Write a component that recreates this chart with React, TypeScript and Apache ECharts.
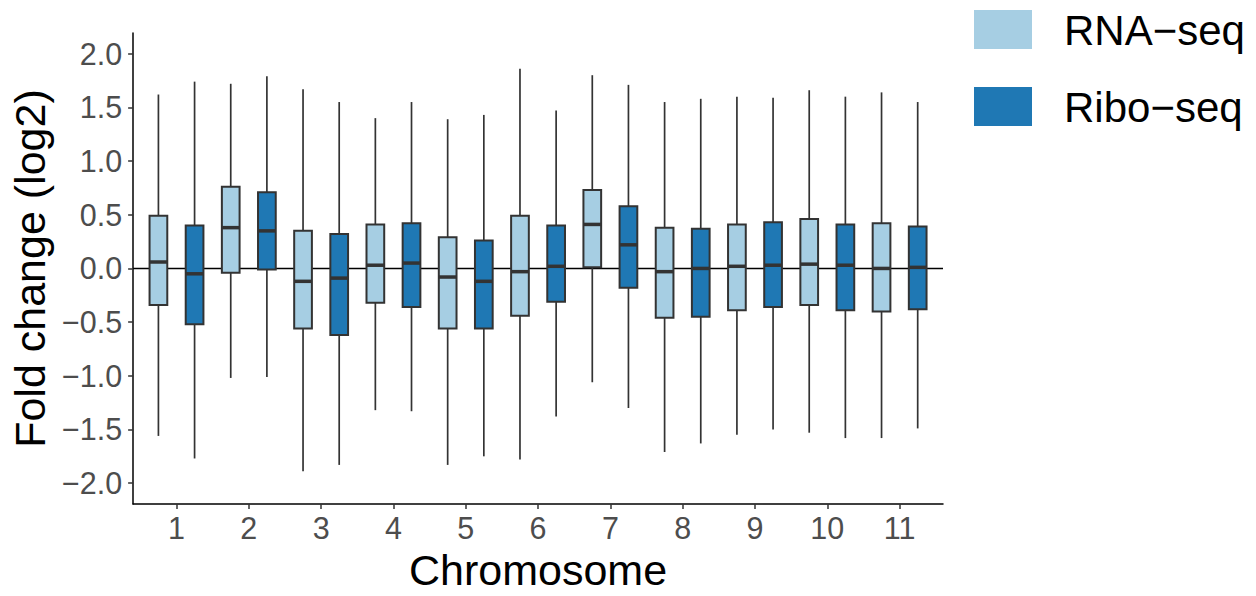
import React, { useEffect, useRef } from "react";
import * as echarts from "echarts";

const chromosomes = [1, 2, 3, 4, 5, 6, 7, 8, 9, 10, 11];
const seriesNames = ["RNA\u2212seq", "Ribo\u2212seq"];

const rnaLower = [-1.56, -1.02, -1.89, -1.32, -1.83, -1.78, -1.06, -1.71, -1.55, -1.53, -1.58];
const rnaQ1 = [-0.34, -0.04, -0.56, -0.32, -0.56, -0.44, 0.01, -0.46, -0.39, -0.34, -0.4];
const rnaMedian = [0.06, 0.38, -0.12, 0.03, -0.08, -0.03, 0.41, -0.03, 0.02, 0.04, 0.0];
const rnaQ3 = [0.49, 0.76, 0.35, 0.41, 0.29, 0.49, 0.73, 0.38, 0.41, 0.46, 0.42];
const rnaUpper = [1.62, 1.72, 1.67, 1.4, 1.39, 1.86, 1.8, 1.55, 1.6, 1.66, 1.64];

const riboLower = [-1.77, -1.01, -1.83, -1.33, -1.75, -1.38, -1.3, -1.63, -1.5, -1.58, -1.49];
const riboQ1 = [-0.52, -0.01, -0.62, -0.36, -0.56, -0.31, -0.18, -0.45, -0.36, -0.39, -0.38];
const riboMedian = [-0.05, 0.35, -0.09, 0.05, -0.12, 0.02, 0.22, 0.0, 0.03, 0.03, 0.01];
const riboQ3 = [0.4, 0.71, 0.32, 0.42, 0.26, 0.4, 0.58, 0.37, 0.43, 0.41, 0.39];
const riboUpper = [1.74, 1.79, 1.55, 1.55, 1.43, 1.47, 1.71, 1.58, 1.59, 1.6, 1.55];

const yTicks = [-2, -1.5, -1, -0.5, 0, 0.5, 1, 1.5, 2];
const zeroLineValue = 0;

const LIGHT = "#A6CEE3";
const DARK = "#1F78B4";
const STROKE = "#333333";
const FONT = "'Liberation Sans', Arial, Helvetica, sans-serif";

const DODGE = 0.25;
const BOX_W = 0.245;

function buildRows(offset: number, lo: number[], q1: number[], med: number[], q3: number[], hi: number[]) {
  return chromosomes.map((c, i) => [c + offset, lo[i], q1[i], med[i], q3[i], hi[i]]);
}

function makeRenderItem(fill: string) {
  return (params: any, api: any) => {
    const x = api.value(0);
    const pLo = api.coord([x, api.value(1)]);
    const pQ1 = api.coord([x, api.value(2)]);
    const pMed = api.coord([x, api.value(3)]);
    const pQ3 = api.coord([x, api.value(4)]);
    const pHi = api.coord([x, api.value(5)]);
    const half = api.size([BOX_W, 0])[0] / 2;
    const cx = pMed[0];
    const lineStyle = { stroke: STROKE, lineWidth: 1.7 };
    return {
      type: "group",
      children: [
        { type: "line", shape: { x1: cx, y1: pHi[1], x2: cx, y2: pQ3[1] }, style: lineStyle },
        { type: "line", shape: { x1: cx, y1: pQ1[1], x2: cx, y2: pLo[1] }, style: lineStyle },
        {
          type: "rect",
          shape: { x: cx - half, y: pQ3[1], width: half * 2, height: pQ1[1] - pQ3[1] },
          style: { fill, stroke: STROKE, lineWidth: 2 },
        },
        {
          type: "line",
          shape: { x1: cx - half, y1: pMed[1], x2: cx + half, y2: pMed[1] },
          style: { stroke: STROKE, lineWidth: 3.5 },
        },
      ],
    };
  };
}

function fmt(v: number) {
  const s = Math.abs(v).toFixed(1);
  return v < 0 ? "\u2212" + s : s;
}

export default function App() {
  const ref = useRef<HTMLDivElement>(null);
  useEffect(() => {
    if (!ref.current) return;
    const chart = echarts.init(ref.current, null, { renderer: "svg" });
    chart.setOption({
      animation: false,
      backgroundColor: "#ffffff",
      textStyle: { fontFamily: FONT },
      grid: { left: 133, top: 33, width: 810, height: 479, containLabel: false },
      xAxis: {
        type: "value",
        min: 0.4,
        max: 11.6,
        name: "Chromosome",
        nameLocation: "middle",
        nameGap: 40,
        nameTextStyle: { fontSize: 43, color: "#000000", fontFamily: FONT },
        axisLine: { show: true, onZero: false, lineStyle: { color: "#000000", width: 1.5 } },
        axisTick: { show: true, length: 5, lineStyle: { color: STROKE, width: 1.5 }, customValues: chromosomes },
        axisLabel: {
          show: true,
          customValues: chromosomes,
          fontSize: 30.5,
          color: "#4D4D4D",
          margin: 8,
          fontFamily: FONT,
          formatter: (v: number) => String(Math.round(v)),
        },
        splitLine: { show: false },
      },
      yAxis: {
        type: "value",
        min: -2.195,
        max: 2.193,
        name: "Fold change (log2)",
        nameLocation: "middle",
        nameGap: 80,
        nameTextStyle: { fontSize: 43, color: "#000000", fontFamily: FONT },
        axisLine: { show: true, onZero: false, lineStyle: { color: "#000000", width: 1.5 } },
        axisTick: { show: true, length: 5, lineStyle: { color: STROKE, width: 1.5 }, customValues: yTicks },
        axisLabel: {
          show: true,
          customValues: yTicks,
          fontSize: 30.5,
          color: "#4D4D4D",
          margin: 11,
          fontFamily: FONT,
          formatter: (v: number) => fmt(v),
        },
        splitLine: { show: false },
      },
      series: [
        {
          type: "line",
          name: "zero",
          data: [
            [0.4, zeroLineValue],
            [11.6, zeroLineValue],
          ],
          symbol: "none",
          lineStyle: { color: "#000000", width: 1.5 },
          silent: true,
          z: 1,
        },
        {
          type: "custom",
          name: seriesNames[0],
          renderItem: makeRenderItem(LIGHT),
          data: buildRows(-DODGE, rnaLower, rnaQ1, rnaMedian, rnaQ3, rnaUpper),
          encode: { x: 0, y: [1, 2, 3, 4, 5] },
          itemStyle: { color: LIGHT },
          z: 3,
        },
        {
          type: "custom",
          name: seriesNames[1],
          renderItem: makeRenderItem(DARK),
          data: buildRows(DODGE, riboLower, riboQ1, riboMedian, riboQ3, riboUpper),
          encode: { x: 0, y: [1, 2, 3, 4, 5] },
          itemStyle: { color: DARK },
          z: 3,
        },
      ],
      graphic: [
        { type: "rect", left: 974, top: 10, shape: { width: 58, height: 39 }, style: { fill: LIGHT } },
        {
          type: "text",
          x: 1064,
          y: 30,
          style: { text: seriesNames[0], fontSize: 42, fontFamily: FONT, fill: "#000000", verticalAlign: "middle", align: "left" },
        },
        { type: "rect", left: 974, top: 87, shape: { width: 58, height: 39 }, style: { fill: DARK } },
        {
          type: "text",
          x: 1064,
          y: 107,
          style: { text: seriesNames[1], fontSize: 42, fontFamily: FONT, fill: "#000000", verticalAlign: "middle", align: "left" },
        },
      ],
    });
    return () => chart.dispose();
  }, []);
  return (
    <div
      ref={ref}
      style={{ position: "fixed", left: 0, top: 0, width: 1256, height: 596, background: "#fff" }}
    />
  );
}
